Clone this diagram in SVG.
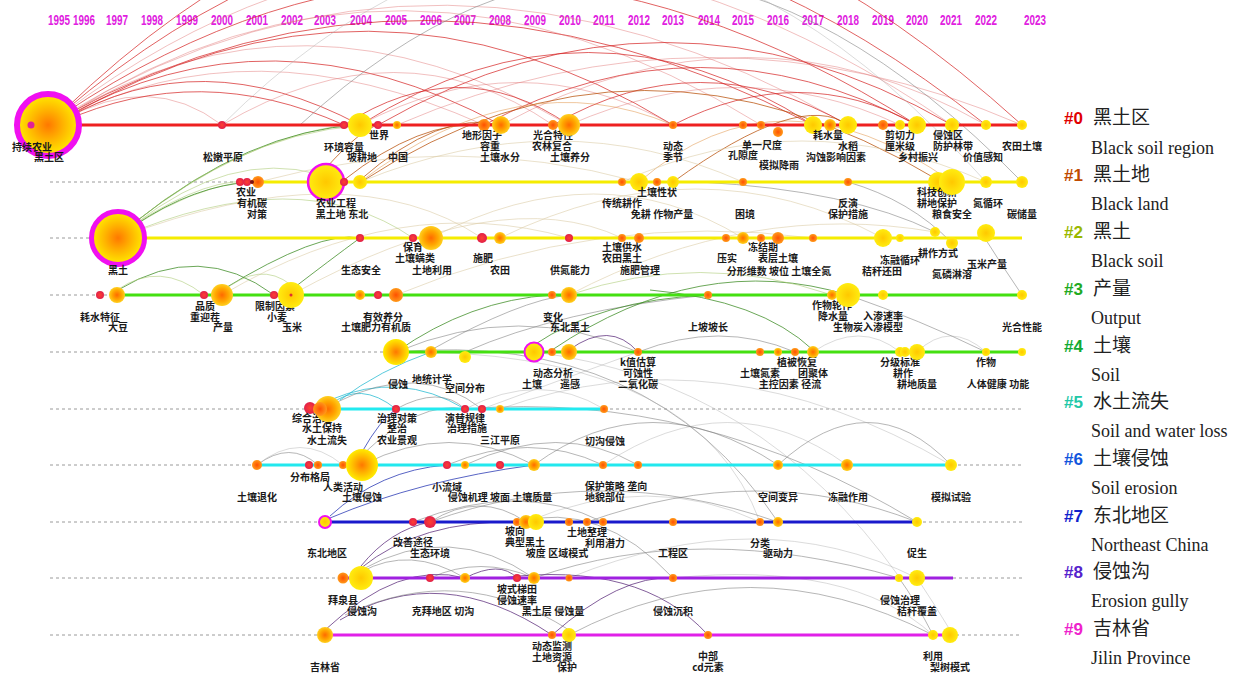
<svg xmlns="http://www.w3.org/2000/svg" width="1251" height="674" viewBox="0 0 1251 674">
<defs>
<radialGradient id="gB"><stop offset="0" stop-color="#ff7800"/><stop offset="0.5" stop-color="#ffb400"/><stop offset="1" stop-color="#ffec00"/></radialGradient>
<radialGradient id="gY"><stop offset="0" stop-color="#ffc800"/><stop offset="1" stop-color="#ffec10"/></radialGradient>
<radialGradient id="gOY"><stop offset="0" stop-color="#ff6a00"/><stop offset="0.6" stop-color="#ffa800"/><stop offset="1" stop-color="#ffd020"/></radialGradient>
<radialGradient id="gO"><stop offset="0" stop-color="#ff5000"/><stop offset="1" stop-color="#ff9a1a"/></radialGradient>
<radialGradient id="gR"><stop offset="0" stop-color="#ff4030"/><stop offset="1" stop-color="#e0204a"/></radialGradient>
</defs>
<style>
.y{font:bold 14px "Liberation Sans",sans-serif;fill:#e020e0;text-anchor:middle}
.t{font:bold 10px "Noto Sans CJK SC",sans-serif;fill:#1a1a1a;text-anchor:middle}
.ln{fill:none;stroke-width:3}
.dt{fill:none;stroke:#9a9a9a;stroke-width:1;stroke-dasharray:3 3}
.a path{fill:none;stroke-width:1}
.ar{stroke:#d42020;opacity:.7}
.arl{stroke:#e07070;opacity:.45}
.abr{stroke:#b8500a;opacity:.75}
.ao{stroke:#e09040;opacity:.5}
.ag{stroke:#3a8a20;opacity:.75}
.agl{stroke:#a8c870;opacity:.55}
.agy{stroke:#7a7a7a;opacity:.55}
.agyl{stroke:#b0b0b0;opacity:.45}
.ac{stroke:#20b8d0;opacity:.75}
.ab{stroke:#2030b0;opacity:.75}
.ap{stroke:#5a2a7a;opacity:.75}
.at{stroke:#d8c8a0;opacity:.55}
.B{fill:url(#gB)}.Y{fill:url(#gY)}.OY{fill:url(#gOY)}.O{fill:url(#gO)}.R{fill:url(#gR)}
.ring{stroke:#f010f0}
.lg{font:bold 17px "Liberation Sans",sans-serif}
.lc{font:19px "Noto Sans CJK SC",sans-serif;fill:#222}
.le{font:18px "Liberation Serif",serif;fill:#222}
</style>
<rect width="1251" height="674" fill="#ffffff"/>

<g id="years">
<text class="y" x="59" y="25" textLength="22" lengthAdjust="spacingAndGlyphs">1995</text>
<text class="y" x="84" y="25" textLength="22" lengthAdjust="spacingAndGlyphs">1996</text>
<text class="y" x="117" y="25" textLength="22" lengthAdjust="spacingAndGlyphs">1997</text>
<text class="y" x="152" y="25" textLength="22" lengthAdjust="spacingAndGlyphs">1998</text>
<text class="y" x="187" y="25" textLength="22" lengthAdjust="spacingAndGlyphs">1999</text>
<text class="y" x="222" y="25" textLength="22" lengthAdjust="spacingAndGlyphs">2000</text>
<text class="y" x="257" y="25" textLength="22" lengthAdjust="spacingAndGlyphs">2001</text>
<text class="y" x="292" y="25" textLength="22" lengthAdjust="spacingAndGlyphs">2002</text>
<text class="y" x="325" y="25" textLength="22" lengthAdjust="spacingAndGlyphs">2003</text>
<text class="y" x="361" y="25" textLength="22" lengthAdjust="spacingAndGlyphs">2004</text>
<text class="y" x="396" y="25" textLength="22" lengthAdjust="spacingAndGlyphs">2005</text>
<text class="y" x="431" y="25" textLength="22" lengthAdjust="spacingAndGlyphs">2006</text>
<text class="y" x="465" y="25" textLength="22" lengthAdjust="spacingAndGlyphs">2007</text>
<text class="y" x="500" y="25" textLength="22" lengthAdjust="spacingAndGlyphs">2008</text>
<text class="y" x="535" y="25" textLength="22" lengthAdjust="spacingAndGlyphs">2009</text>
<text class="y" x="570" y="25" textLength="22" lengthAdjust="spacingAndGlyphs">2010</text>
<text class="y" x="604" y="25" textLength="22" lengthAdjust="spacingAndGlyphs">2011</text>
<text class="y" x="639" y="25" textLength="22" lengthAdjust="spacingAndGlyphs">2012</text>
<text class="y" x="673" y="25" textLength="22" lengthAdjust="spacingAndGlyphs">2013</text>
<text class="y" x="709" y="25" textLength="22" lengthAdjust="spacingAndGlyphs">2014</text>
<text class="y" x="743" y="25" textLength="22" lengthAdjust="spacingAndGlyphs">2015</text>
<text class="y" x="778" y="25" textLength="22" lengthAdjust="spacingAndGlyphs">2016</text>
<text class="y" x="813" y="25" textLength="22" lengthAdjust="spacingAndGlyphs">2017</text>
<text class="y" x="848" y="25" textLength="22" lengthAdjust="spacingAndGlyphs">2018</text>
<text class="y" x="883" y="25" textLength="22" lengthAdjust="spacingAndGlyphs">2019</text>
<text class="y" x="917" y="25" textLength="22" lengthAdjust="spacingAndGlyphs">2020</text>
<text class="y" x="951" y="25" textLength="22" lengthAdjust="spacingAndGlyphs">2021</text>
<text class="y" x="986" y="25" textLength="22" lengthAdjust="spacingAndGlyphs">2022</text>
<text class="y" x="1035" y="25" textLength="22" lengthAdjust="spacingAndGlyphs">2023</text>
</g>

<g id="dotted-lines">
<path class="dt" d="M50 182H240M50 238H118M50 295H117M50 352H396M50 409H315M604 409H1022M50 465H257M952 465H1022M50 522H325M917 522H1022M50 578H343M953 578H1022M50 635H325M950 635H1022"/>
</g>

<g id="connectors" class="a">
<path class="ar" d="M62 112Q520 -330 1022 125"/>
<path class="ar" d="M62 113Q500 -260 986 125"/>
<path class="arl" d="M62 114Q480 -200 952 125"/>
<path class="ar" d="M62 115Q470 -160 917 125"/>
<path class="arl" d="M62 116Q440 -110 848 125"/>
<path class="ar" d="M62 117Q420 -80 813 125"/>
<path class="arl" d="M62 118Q300 -30 569 125"/>
<path class="ar" d="M62 119Q270 0 501 125"/>
<path class="arl" d="M62 120Q250 20 484 125"/>
<path class="ar" d="M62 121Q200 40 360 125"/>
<path class="arl" d="M62 121Q150 70 222 125"/>
<path class="ar" d="M62 120Q370 -60 673 125"/>
<path class="arl" d="M62 118Q400 -100 761 125"/>
<path class="ar" d="M62 122Q200 60 344 125"/>
<path class="ar" d="M360 125Q590 -20 813 125"/>
<path class="ar" d="M378 125Q665 -40 952 125"/>
<path class="arl" d="M397 125Q710 -10 1022 125"/>
<path class="ar" d="M484 125Q700 10 917 125"/>
<path class="arl" d="M501 125Q750 -10 986 125"/>
<path class="ar" d="M553 125Q700 40 848 125"/>
<path class="arl" d="M569 125Q740 50 900 125"/>
<path class="ar" d="M673 125Q800 60 917 125"/>
<path class="arl" d="M360 125Q520 40 673 125"/>
<path class="ar" d="M344 125Q460 50 569 125"/>
<path class="arl" d="M222 125Q400 20 553 125"/>
<path class="agy" d="M300 125Q650 -200 1022 182"/>
<path class="agyl" d="M222 125Q600 -250 986 182"/>
<path class="abr" d="M361 182Q640 0 938 180"/>
<path class="abr" d="M344 180Q420 120 484 125"/>
<path class="abr" d="M360 180Q440 110 501 125"/>
<path class="abr" d="M326 168Q360 130 378 125"/>
<path class="ao" d="M360 182Q520 60 673 125"/>
<path class="ao" d="M639 182Q780 60 952 182"/>
<path class="abr" d="M673 182Q800 90 848 125"/>
<path class="agl" d="M135 225Q190 190 240 182"/>
<path class="ag" d="M135 225Q195 185 252 182"/>
<path class="agl" d="M135 224Q210 175 258 182"/>
<path class="agl" d="M135 224Q230 150 318 174"/>
<path class="agl" d="M134 223Q240 140 344 125"/>
<path class="ag" d="M134 223Q250 130 360 125"/>
<path class="agl" d="M134 223Q260 120 397 125"/>
<path class="at" d="M258 182Q450 130 639 182"/>
<path class="at" d="M360 182Q560 100 743 182"/>
<path class="at" d="M431 238Q600 150 743 238"/>
<path class="at" d="M500 238Q700 140 883 238"/>
<path class="at" d="M222 295Q400 190 569 238"/>
<path class="at" d="M291 295Q500 180 622 238"/>
<path class="at" d="M396 295Q600 210 813 238"/>
<path class="at" d="M569 295Q750 200 935 232"/>
<path class="at" d="M622 182Q800 100 986 182"/>
<path class="agl" d="M118 238Q300 160 413 238"/>
<path class="at" d="M118 238Q350 150 482 238"/>
<path class="agy" d="M700 182Q850 190 935 232"/>
<path class="agy" d="M848 182Q910 200 952 243"/>
<path class="ag" d="M118 290Q200 240 274 295"/>
<path class="agl" d="M117 290Q160 260 204 295"/>
<path class="ag" d="M222 290Q320 230 360 238"/>
<path class="ag" d="M291 290Q330 260 360 238"/>
<path class="agl" d="M222 292Q260 260 291 285"/>
<path class="ag" d="M396 352Q470 300 552 295"/>
<path class="agy" d="M396 352Q520 300 638 352"/>
<path class="agy" d="M431 350Q520 300 569 295"/>
<path class="agy" d="M465 352Q560 310 708 295"/>
<path class="ag" d="M534 345Q600 300 708 295"/>
<path class="ap" d="M569 350Q610 320 638 352"/>
<path class="ag" d="M552 350Q700 250 848 295"/>
<path class="agl" d="M569 295Q700 250 832 295"/>
<path class="agy" d="M638 352Q720 320 795 352"/>
<path class="ag" d="M650 290Q760 300 813 350"/>
<path class="agyl" d="M813 352Q860 320 900 352"/>
<path class="agyl" d="M917 352Q950 320 986 352"/>
<path class="agy" d="M848 295Q920 320 986 352"/>
<path class="agy" d="M986 240Q1005 270 1022 295"/>
<path class="ac" d="M330 405Q360 380 396 409"/>
<path class="ac" d="M330 400Q400 370 465 409"/>
<path class="agy" d="M335 403Q420 360 482 409"/>
<path class="ac" d="M340 400Q380 370 431 352"/>
<path class="agy" d="M396 409Q440 385 465 409"/>
<path class="agyl" d="M465 409Q540 370 604 409"/>
<path class="agyl" d="M482 409Q560 380 638 352"/>
<path class="ab" d="M362 452Q380 420 396 409"/>
<path class="agy" d="M362 455Q420 400 465 409"/>
<path class="agy" d="M257 465Q290 440 318 465"/>
<path class="agyl" d="M257 465Q300 430 343 465"/>
<path class="agy" d="M362 465Q450 420 534 465"/>
<path class="agy" d="M447 465Q530 430 603 465"/>
<path class="agy" d="M465 465Q560 420 638 465"/>
<path class="agy" d="M534 465Q650 380 778 465"/>
<path class="agyl" d="M603 465Q730 380 847 465"/>
<path class="agy" d="M778 465Q870 380 951 465"/>
<path class="agyl" d="M500 409Q720 330 951 465"/>
<path class="agy" d="M396 352Q650 330 778 522"/>
<path class="agyl" d="M431 352Q700 360 760 522"/>
<path class="agy" d="M465 409Q700 390 917 522"/>
<path class="agyl" d="M534 352Q760 380 900 578"/>
<path class="ab" d="M330 516Q380 470 447 465"/>
<path class="ab" d="M330 518Q420 480 534 465"/>
<path class="agy" d="M430 522Q480 490 526 522"/>
<path class="agy" d="M413 522Q520 480 603 522"/>
<path class="agy" d="M430 522Q600 460 778 522"/>
<path class="agyl" d="M526 522Q650 470 760 522"/>
<path class="agy" d="M587 522Q760 460 917 522"/>
<path class="ap" d="M361 566Q390 530 430 522"/>
<path class="ap" d="M361 568Q420 520 517 522"/>
<path class="agy" d="M361 570Q450 520 534 578"/>
<path class="agy" d="M361 572Q410 545 465 578"/>
<path class="agy" d="M430 578Q480 555 534 578"/>
<path class="ap" d="M465 578Q500 560 517 578"/>
<path class="agy" d="M534 578Q700 520 899 578"/>
<path class="agyl" d="M569 578Q760 500 917 578"/>
<path class="agy" d="M517 522Q600 500 673 578"/>
<path class="ap" d="M325 630Q400 560 465 578"/>
<path class="ap" d="M340 620Q440 560 552 635"/>
<path class="agy" d="M345 615Q460 560 569 630"/>
<path class="ap" d="M500 578Q640 560 708 635"/>
<path class="agy" d="M569 635Q750 540 933 635"/>
<path class="agyl" d="M673 578Q850 560 933 635"/>
<path class="ap" d="M552 635Q620 575 673 578"/>
<path class="agy" d="M899 578Q915 600 933 635"/>
<path class="agyl" d="M917 578Q935 605 950 630"/>
</g>

<g id="timelines">
<path class="ln" stroke="#ee2020" d="M48 125H1022"/>
<path class="ln" stroke="#f5ec00" d="M240 182H1022"/>
<path class="ln" stroke="#f5ec00" d="M118 238H1022"/>
<path class="ln" stroke="#44e011" d="M117 295H1022"/>
<path class="ln" stroke="#44e011" d="M396 352H1022"/>
<path class="ln" stroke="#22eaf0" d="M315 409H604"/>
<path class="ln" stroke="#22e8ee" d="M257 465H952"/>
<path class="ln" stroke="#1a1acc" d="M325 522H917"/>
<path class="ln" stroke="#a020e0" d="M343 578H953"/>
<path class="ln" stroke="#e020e8" d="M325 635H950"/>
</g>

<g id="cluster0">
<g id="n0-01"><circle cx="48" cy="125" r="31" class="B ring" stroke-width="6"/><circle cx="31" cy="125" r="3.5" fill="#e0209a"/><text class="t" x="32" y="151">持续农业</text><text class="t" x="49" y="161">黑土区</text></g>
<g id="n0-02"><circle cx="222" cy="125" r="4" class="R"/><text class="t" x="223" y="161">松嫩平原</text></g>
<g id="n0-03"><circle cx="344" cy="125" r="4" class="R"/><text class="t" x="344" y="151">环境容量</text></g>
<g id="n0-04"><circle cx="360" cy="125" r="12" class="Y"/><text class="t" x="362" y="161">坡耕地</text></g>
<g id="n0-05"><circle cx="378" cy="125" r="4" class="R"/><text class="t" x="379" y="139">世界</text></g>
<g id="n0-06"><circle cx="397" cy="125" r="4" class="OY"/><text class="t" x="398" y="161">中国</text></g>
<g id="n0-07"><circle cx="484" cy="125" r="6" class="O"/><text class="t" x="482" y="139">地形因子</text><text class="t" x="490" y="150">容重</text></g>
<g id="n0-08"><circle cx="501" cy="125" r="9" class="OY"/><text class="t" x="500" y="161">土壤水分</text></g>
<g id="n0-09"><circle cx="553" cy="125" r="5" class="O"/><text class="t" x="553" y="139">光合特性</text><text class="t" x="552" y="150">农林复合</text></g>
<g id="n0-10"><circle cx="569" cy="125" r="11" class="OY"/><text class="t" x="570" y="161">土壤养分</text></g>
<g id="n0-11"><circle cx="673" cy="125" r="4" class="O"/><text class="t" x="673" y="150">动态</text><text class="t" x="673" y="161">季节</text></g>
<g id="n0-12"><circle cx="743" cy="125" r="4" class="O"/><text class="t" x="743" y="159">孔隙度</text></g>
<g id="n0-13"><circle cx="761" cy="125" r="4" class="O"/><text class="t" x="762" y="149">单一尺度</text></g>
<g id="n0-14"><circle cx="778" cy="132" r="5" class="O"/><text class="t" x="779" y="169">模拟降雨</text></g>
<g id="n0-15"><circle cx="813" cy="125" r="9" class="Y"/><text class="t" x="828" y="139">耗水量</text></g>
<g id="n0-16"><circle cx="830" cy="125" r="6" class="OY"/></g>
<g id="n0-17"><circle cx="848" cy="125" r="9" class="Y"/><text class="t" x="848" y="150">水稻</text><text class="t" x="836" y="161">沟蚀影响因素</text></g>
<g id="n0-18"><circle cx="883" cy="125" r="5" class="O"/></g>
<g id="n0-19"><circle cx="900" cy="125" r="5" class="Y"/><text class="t" x="900" y="139">剪切力</text><text class="t" x="900" y="150">厘米级</text></g>
<g id="n0-20"><circle cx="917" cy="125" r="9" class="Y"/><text class="t" x="918" y="161">乡村振兴</text></g>
<g id="n0-21"><circle cx="952" cy="125" r="7" class="Y"/><text class="t" x="948" y="139">侵蚀区</text><text class="t" x="953" y="150">防护林带</text></g>
<g id="n0-22"><circle cx="986" cy="125" r="5" class="Y"/><text class="t" x="983" y="161">价值感知</text></g>
<g id="n0-23"><circle cx="1022" cy="125" r="5" class="Y"/><text class="t" x="1022" y="150">农田土壤</text></g>
</g>

<g id="cluster1">
<g id="n1-01"><circle cx="240" cy="182" r="4" class="R"/><text class="t" x="246" y="196">农业</text></g>
<g id="n1-02"><circle cx="247" cy="182" r="4" class="R"/><text class="t" x="252" y="207">有机碳</text></g>
<g id="n1-03"><circle cx="258" cy="182" r="6" class="O"/><circle cx="252" cy="182" r="2" fill="#7a1010"/><text class="t" x="257" y="218">对策</text></g>
<g id="n1-04"><circle cx="326" cy="182" r="18" class="Y ring" stroke-width="2.5"/><text class="t" x="336" y="207">农业工程</text><text class="t" x="342" y="218">黑土地 东北</text></g>
<g id="n1-05"><circle cx="344" cy="182" r="4" class="R"/></g>
<g id="n1-06"><circle cx="360" cy="182" r="7" class="Y"/></g>
<g id="n1-07"><circle cx="622" cy="182" r="4" class="O"/><text class="t" x="622" y="207">传统耕作</text></g>
<g id="n1-08"><circle cx="639" cy="182" r="9" class="Y"/><text class="t" x="657" y="196">土壤性状</text></g>
<g id="n1-09"><circle cx="657" cy="182" r="4" class="O"/><text class="t" x="662" y="218">免耕 作物产量</text></g>
<g id="n1-10"><circle cx="673" cy="182" r="6" class="Y"/></g>
<g id="n1-11"><circle cx="743" cy="182" r="4" class="O"/><text class="t" x="745" y="218">困境</text></g>
<g id="n1-12"><circle cx="848" cy="182" r="4" class="O"/><text class="t" x="848" y="207">反演</text><text class="t" x="848" y="218">保护措施</text></g>
<g id="n1-13"><circle cx="938" cy="182" r="10" class="Y"/><text class="t" x="937" y="196">科技创新</text><text class="t" x="937" y="207">耕地保护</text></g>
<g id="n1-14"><circle cx="952" cy="182" r="13" class="Y"/><text class="t" x="952" y="218">粮食安全</text></g>
<g id="n1-15"><circle cx="986" cy="182" r="6" class="Y"/><text class="t" x="988" y="207">氮循环</text></g>
<g id="n1-16"><circle cx="1022" cy="182" r="6" class="Y"/><text class="t" x="1022" y="218">碳储量</text></g>
</g>

<g id="cluster2">
<g id="n2-01"><circle cx="118" cy="238" r="26.5" class="B ring" stroke-width="5"/><text class="t" x="118" y="274">黑土</text></g>
<g id="n2-02"><circle cx="360" cy="238" r="4" class="R"/><text class="t" x="361" y="274">生态安全</text></g>
<g id="n2-03"><circle cx="413" cy="238" r="4" class="R"/><text class="t" x="413" y="251">保育</text></g>
<g id="n2-04"><circle cx="431" cy="238" r="12" class="OY"/><text class="t" x="415" y="262">土壤螨类</text><text class="t" x="432" y="274">土地利用</text></g>
<g id="n2-05"><circle cx="482" cy="238" r="5" class="R"/><text class="t" x="483" y="262">施肥</text></g>
<g id="n2-06"><circle cx="500" cy="238" r="6" class="OY"/><text class="t" x="500" y="274">农田</text></g>
<g id="n2-07"><circle cx="569" cy="238" r="4" class="R"/><text class="t" x="570" y="274">供氮能力</text></g>
<g id="n2-08"><circle cx="622" cy="238" r="4" class="O"/><text class="t" x="622" y="251">土壤供水</text><text class="t" x="622" y="262">农田黑土</text></g>
<g id="n2-09"><circle cx="639" cy="238" r="5" class="O"/><text class="t" x="640" y="274">施肥管理</text></g>
<g id="n2-10"><circle cx="726" cy="238" r="4" class="O"/><text class="t" x="727" y="262">压实</text></g>
<g id="n2-11"><circle cx="743" cy="238" r="6" class="OY"/><text class="t" x="763" y="251">冻结期</text></g>
<g id="n2-12"><circle cx="761" cy="238" r="4" class="O"/></g>
<g id="n2-13"><circle cx="778" cy="238" r="6" class="O"/><text class="t" x="778" y="262">表层土壤</text></g>
<g id="n2-14"><circle cx="813" cy="238" r="4" class="O"/><text class="t" x="779" y="275">分形维数 坡位 土壤全氮</text></g>
<g id="n2-15"><circle cx="883" cy="238" r="9" class="Y"/><text class="t" x="900" y="264">冻融循环</text><text class="t" x="882" y="275">秸秆还田</text></g>
<g id="n2-16"><circle cx="900" cy="238" r="4" class="Y"/></g>
<g id="n2-17"><circle cx="935" cy="232" r="5" class="Y"/><text class="t" x="938" y="257">耕作方式</text></g>
<g id="n2-18"><circle cx="952" cy="243" r="6" class="Y"/><text class="t" x="952" y="278">氮磷淋溶</text></g>
<g id="n2-19"><circle cx="986" cy="233" r="9" class="Y"/><text class="t" x="987" y="268">玉米产量</text></g>
</g>

<g id="cluster3">
<g id="n3-01"><circle cx="100" cy="295" r="4" class="R"/><text class="t" x="100" y="321">耗水特征</text></g>
<g id="n3-02"><circle cx="117" cy="295" r="8" class="OY"/><text class="t" x="118" y="331">大豆</text></g>
<g id="n3-03"><circle cx="204" cy="295" r="4" class="R"/><text class="t" x="205" y="310">品质</text><text class="t" x="205" y="321">重迎茬</text></g>
<g id="n3-04"><circle cx="222" cy="295" r="11" class="OY"/><text class="t" x="223" y="331">产量</text></g>
<g id="n3-05"><circle cx="274" cy="295" r="4" class="R"/><text class="t" x="275" y="310">限制因素</text><text class="t" x="277" y="321">小麦</text></g>
<g id="n3-06"><circle cx="291" cy="295" r="13" class="Y"/><circle cx="291" cy="295" r="1.5" fill="#e03030"/><text class="t" x="292" y="331">玉米</text></g>
<g id="n3-07"><circle cx="360" cy="295" r="5" class="OY"/><text class="t" x="361" y="331">土壤肥力</text></g>
<g id="n3-08"><circle cx="378" cy="295" r="4" class="R"/><text class="t" x="383" y="321">有效养分</text></g>
<g id="n3-09"><circle cx="396" cy="295" r="7" class="O"/><text class="t" x="396" y="331">有机质</text></g>
<g id="n3-10"><circle cx="552" cy="295" r="4" class="O"/><text class="t" x="553" y="321">变化</text></g>
<g id="n3-11"><circle cx="569" cy="295" r="8" class="OY"/><text class="t" x="570" y="331">东北黑土</text></g>
<g id="n3-12"><circle cx="708" cy="295" r="4" class="O"/><text class="t" x="708" y="331">上坡坡长</text></g>
<g id="n3-13"><circle cx="832" cy="295" r="5" class="OY"/><text class="t" x="832" y="309">作物轮作</text><text class="t" x="833" y="320">降水量</text></g>
<g id="n3-14"><circle cx="848" cy="295" r="12" class="Y"/><text class="t" x="848" y="331">生物炭</text></g>
<g id="n3-15"><circle cx="883" cy="295" r="5" class="Y"/><text class="t" x="883" y="320">入渗速率</text><text class="t" x="883" y="331">入渗模型</text></g>
<g id="n3-16"><circle cx="1022" cy="295" r="5" class="Y"/><text class="t" x="1022" y="331">光合性能</text></g>
</g>

<g id="cluster4">
<g id="n4-01"><circle cx="396" cy="352" r="13" class="B"/><text class="t" x="398" y="388">侵蚀</text></g>
<g id="n4-02"><circle cx="431" cy="352" r="6" class="OY"/><text class="t" x="432" y="383">地统计学</text></g>
<g id="n4-03"><circle cx="465" cy="357" r="6" class="Y"/><text class="t" x="465" y="392">空间分布</text></g>
<g id="n4-04"><circle cx="534" cy="352" r="9.5" class="Y ring" stroke-width="2"/><text class="t" x="553" y="377">动态分析</text><text class="t" x="532" y="388">土壤</text></g>
<g id="n4-05"><circle cx="552" cy="352" r="4" class="O"/></g>
<g id="n4-06"><circle cx="569" cy="352" r="8" class="OY"/><text class="t" x="570" y="388">遥感</text></g>
<g id="n4-07"><circle cx="638" cy="352" r="4" class="O"/><text class="t" x="638" y="366">k值估算</text><text class="t" x="638" y="377">可蚀性</text><text class="t" x="638" y="388">二氧化碳</text></g>
<g id="n4-08"><circle cx="760" cy="352" r="4" class="O"/><text class="t" x="760" y="377">土壤氮素</text></g>
<g id="n4-09"><circle cx="778" cy="352" r="4" class="OY"/></g>
<g id="n4-10"><circle cx="795" cy="352" r="4" class="O"/><text class="t" x="797" y="366">植被恢复</text><text class="t" x="790" y="388">主控因素 径流</text></g>
<g id="n4-11"><circle cx="813" cy="352" r="6" class="OY"/><text class="t" x="813" y="377">团聚体</text></g>
<g id="n4-12"><circle cx="900" cy="352" r="5" class="Y"/><text class="t" x="900" y="366">分级标准</text></g>
<g id="n4-13"><circle cx="905" cy="352" r="5" class="Y"/><text class="t" x="903" y="377">耕作</text></g>
<g id="n4-14"><circle cx="917" cy="352" r="8" class="Y"/><text class="t" x="917" y="388">耕地质量</text></g>
<g id="n4-15"><circle cx="986" cy="352" r="4" class="Y"/><text class="t" x="986" y="366">作物</text></g>
<g id="n4-16"><circle cx="1022" cy="352" r="4" class="Y"/><text class="t" x="998" y="388">人体健康 功能</text></g>
</g>

<g id="cluster5">
<g id="n5-01"><circle cx="310" cy="408" r="6" class="R"/><text class="t" x="312" y="422">综合治理</text></g>
<g id="n5-02"><circle cx="328" cy="409" r="13" class="OY"/><circle cx="320" cy="409" r="7" class="O"/><text class="t" x="322" y="432">水土保持</text><text class="t" x="327" y="444">水土流失</text></g>
<g id="n5-03"><circle cx="396" cy="409" r="4" class="R"/><text class="t" x="397" y="422">治理对策</text><text class="t" x="397" y="432">整治</text><text class="t" x="397" y="444">农业景观</text></g>
<g id="n5-04"><circle cx="465" cy="409" r="4" class="R"/><text class="t" x="465" y="422">演替规律</text><text class="t" x="467" y="432">治理措施</text></g>
<g id="n5-05"><circle cx="482" cy="409" r="4" class="R"/></g>
<g id="n5-06"><circle cx="500" cy="409" r="4" class="OY"/><text class="t" x="500" y="444">三江平原</text></g>
<g id="n5-07"><circle cx="604" cy="409" r="4" class="O"/><text class="t" x="605" y="445">切沟侵蚀</text></g>
</g>

<g id="cluster6">
<g id="n6-01"><circle cx="257" cy="465" r="5" class="O"/><text class="t" x="257" y="501">土壤退化</text></g>
<g id="n6-02"><circle cx="309" cy="465" r="4" class="R"/><text class="t" x="310" y="481">分布格局</text></g>
<g id="n6-03"><circle cx="318" cy="465" r="4" class="O"/></g>
<g id="n6-04"><circle cx="343" cy="465" r="4" class="O"/><text class="t" x="343" y="491">人类活动</text></g>
<g id="n6-05"><circle cx="362" cy="465" r="16" class="B"/><text class="t" x="362" y="501">土壤侵蚀</text></g>
<g id="n6-06"><circle cx="447" cy="465" r="4" class="R"/><text class="t" x="447" y="491">小流域</text></g>
<g id="n6-07"><circle cx="465" cy="465" r="4" class="OY"/></g>
<g id="n6-08"><circle cx="500" cy="465" r="4" class="R"/></g>
<g id="n6-09"><circle cx="534" cy="465" r="6" class="OY"/><text class="t" x="500" y="501">侵蚀机理 坡面 土壤质量</text></g>
<g id="n6-10"><circle cx="603" cy="465" r="4" class="O"/><text class="t" x="616" y="490">保护策略 垄向</text><text class="t" x="605" y="501">地貌部位</text></g>
<g id="n6-11"><circle cx="638" cy="465" r="4" class="O"/></g>
<g id="n6-12"><circle cx="778" cy="465" r="5" class="OY"/><text class="t" x="778" y="501">空间变异</text></g>
<g id="n6-13"><circle cx="847" cy="465" r="6" class="OY"/><text class="t" x="848" y="501">冻融作用</text></g>
<g id="n6-14"><circle cx="951" cy="465" r="6" class="Y"/><text class="t" x="951" y="501">模拟试验</text></g>
</g>

<g id="cluster7">
<g id="n7-01"><circle cx="325" cy="522" r="6" class="Y ring" stroke-width="2"/><text class="t" x="327" y="557">东北地区</text></g>
<g id="n7-02"><circle cx="413" cy="522" r="4" class="R"/><text class="t" x="413" y="546">改善途径</text></g>
<g id="n7-03"><circle cx="430" cy="522" r="6" class="R"/><text class="t" x="430" y="557">生态环境</text></g>
<g id="n7-04"><circle cx="517" cy="522" r="4" class="O"/><text class="t" x="515" y="535">坡向</text></g>
<g id="n7-05"><circle cx="526" cy="522" r="7" class="OY"/><text class="t" x="525" y="546">典型黑土</text></g>
<g id="n7-06"><circle cx="536" cy="522" r="8" class="Y"/><text class="t" x="557" y="557">坡度 区域模式</text></g>
<g id="n7-07"><circle cx="569" cy="522" r="4" class="O"/></g>
<g id="n7-08"><circle cx="587" cy="522" r="4" class="O"/><text class="t" x="587" y="536">土地整理</text></g>
<g id="n7-09"><circle cx="603" cy="522" r="4" class="O"/><text class="t" x="605" y="547">利用潜力</text></g>
<g id="n7-10"><circle cx="673" cy="522" r="4" class="O"/><text class="t" x="673" y="557">工程区</text></g>
<g id="n7-11"><circle cx="760" cy="522" r="4" class="O"/><text class="t" x="760" y="547">分类</text></g>
<g id="n7-12"><circle cx="778" cy="522" r="5" class="OY"/><text class="t" x="778" y="557">驱动力</text></g>
<g id="n7-13"><circle cx="917" cy="522" r="5" class="Y"/><text class="t" x="917" y="557">促生</text></g>
</g>

<g id="cluster8">
<g id="n8-01"><circle cx="343" cy="578" r="5.5" class="O"/><text class="t" x="343" y="604">拜泉县</text></g>
<g id="n8-02"><circle cx="361" cy="578" r="12" class="Y"/><text class="t" x="362" y="615">侵蚀沟</text></g>
<g id="n8-03"><circle cx="430" cy="578" r="4" class="R"/><text class="t" x="443" y="615">克拜地区 切沟</text></g>
<g id="n8-04"><circle cx="465" cy="578" r="5" class="OY"/></g>
<g id="n8-05"><circle cx="517" cy="578" r="4" class="R"/><text class="t" x="517" y="593">坡式梯田</text><text class="t" x="517" y="604">侵蚀速率</text></g>
<g id="n8-06"><circle cx="534" cy="578" r="6" class="OY"/></g>
<g id="n8-07"><circle cx="569" cy="578" r="3.5" class="O"/><text class="t" x="553" y="615">黑土层 侵蚀量</text></g>
<g id="n8-08"><circle cx="673" cy="578" r="4" class="O"/><text class="t" x="673" y="615">侵蚀沉积</text></g>
<g id="n8-09"><circle cx="899" cy="578" r="4" class="Y"/><text class="t" x="900" y="604">侵蚀治理</text></g>
<g id="n8-10"><circle cx="917" cy="578" r="8" class="Y"/><text class="t" x="917" y="615">秸秆覆盖</text></g>
</g>

<g id="cluster9">
<g id="n9-01"><circle cx="325" cy="635" r="8" class="OY"/><text class="t" x="325" y="671">吉林省</text></g>
<g id="n9-02"><circle cx="552" cy="635" r="4" class="O"/><text class="t" x="552" y="650">动态监测</text><text class="t" x="552" y="661">土地资源</text></g>
<g id="n9-03"><circle cx="569" cy="635" r="7" class="Y"/><text class="t" x="567" y="671">保护</text></g>
<g id="n9-04"><circle cx="708" cy="635" r="4" class="O"/><text class="t" x="708" y="660">中部</text><text class="t" x="708" y="671">cd元素</text></g>
<g id="n9-05"><circle cx="933" cy="635" r="5" class="Y"/><text class="t" x="933" y="660">利用</text></g>
<g id="n9-06"><circle cx="950" cy="635" r="8" class="Y"/><text class="t" x="950" y="671">梨树模式</text></g>
</g>

<g id="legend">
<text class="lg" x="1064" y="124" fill="#e00000">#0</text><text class="lc" x="1093" y="124">黑土区</text><text class="le" x="1091" y="154">Black soil region</text>
<text class="lg" x="1064" y="181" fill="#c04a00">#1</text><text class="lc" x="1093" y="181">黑土地</text><text class="le" x="1091" y="210">Black land</text>
<text class="lg" x="1064" y="238" fill="#99b800">#2</text><text class="lc" x="1093" y="238">黑土</text><text class="le" x="1091" y="267">Black soil</text>
<text class="lg" x="1064" y="295" fill="#22aa22">#3</text><text class="lc" x="1093" y="295">产量</text><text class="le" x="1091" y="324">Output</text>
<text class="lg" x="1064" y="352" fill="#11aa33">#4</text><text class="lc" x="1093" y="352">土壤</text><text class="le" x="1091" y="381">Soil</text>
<text class="lg" x="1064" y="408" fill="#22c8a8">#5</text><text class="lc" x="1093" y="408">水土流失</text><text class="le" x="1091" y="437">Soil and water loss</text>
<text class="lg" x="1064" y="465" fill="#1155dd">#6</text><text class="lc" x="1093" y="465">土壤侵蚀</text><text class="le" x="1091" y="494">Soil erosion</text>
<text class="lg" x="1064" y="522" fill="#1122cc">#7</text><text class="lc" x="1093" y="522">东北地区</text><text class="le" x="1091" y="551">Northeast China</text>
<text class="lg" x="1064" y="578" fill="#5522cc">#8</text><text class="lc" x="1093" y="578">侵蚀沟</text><text class="le" x="1091" y="607">Erosion gully</text>
<text class="lg" x="1064" y="635" fill="#ee22cc">#9</text><text class="lc" x="1093" y="635">吉林省</text><text class="le" x="1091" y="664">Jilin Province</text>
</g>
</svg>
